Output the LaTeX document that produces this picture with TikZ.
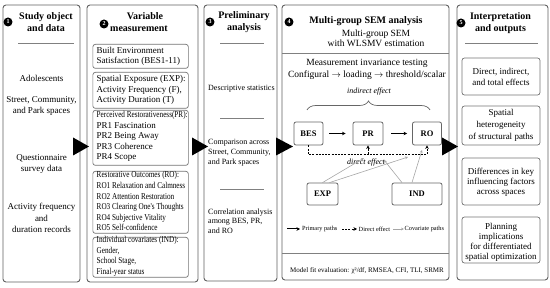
\documentclass[tikz,border=0pt]{standalone}
\usepackage{fontspec}
\setmainfont{Liberation Serif}
\newfontfamily\cond[FakeStretch=0.8]{Liberation Serif}
\usetikzlibrary{arrows.meta,decorations.pathreplacing,calc}
\begin{document}
\begin{tikzpicture}[x=1pt,y=1pt,
  panel/.style={draw=black!62, line width=0.9pt, rounded corners=3pt, inner sep=0pt},
  ibox/.style={draw=black!55, line width=0.7pt, rounded corners=2.5pt, inner sep=0pt},
  badge/.style={circle, fill=black, text=white, inner sep=0pt, minimum size=9pt, font=\fontsize{6}{6}\selectfont\bfseries},
  ttl/.style={font=\fontsize{10}{12.5}\selectfont\bfseries, align=center, inner sep=0pt},
  body/.style={font=\fontsize{9}{11.5}\selectfont, align=center, inner sep=0pt},
  btxt/.style={font=\fontsize{9}{10.5}\selectfont, align=left, inner sep=0pt, anchor=west},
  ptxt/.style={font=\fontsize{8}{10}\selectfont, align=left, inner sep=0pt, anchor=west},
  otxt/.style={font=\fontsize{9}{11}\selectfont, align=center, inner sep=0pt},
  sep/.style={draw=black!50, line width=0.7pt},
  sem/.style={draw=black!60, line width=0.8pt, rounded corners=2pt, font=\fontsize{8.5}{9}\selectfont\bfseries, minimum height=23pt, inner sep=0pt},
  prim/.style={draw=black, line width=1pt, -{Stealth[length=3.5pt,width=3.5pt]}},
  dir/.style={draw=black, line width=0.8pt, dashed, dash pattern=on 2pt off 1.2pt, -{Stealth[length=3.5pt,width=3.5pt]}},
  cov/.style={draw=black!35, line width=0.6pt, -{Stealth[length=3pt,width=2.8pt]}},
  leg/.style={font=\fontsize{6.3}{7}\selectfont, inner sep=0pt, anchor=west},
  bigarr/.style={fill=black}
]
\useasboundingbox (0,0) rectangle (550,-288);

% ---------- Panel 1 ----------
\node[panel, minimum width=77pt, minimum height=277pt] (p1) at (41.5,-143.5) {};
\node[badge] (b1) at (8,-22) {1};
\node[ttl] (t1) at (46,-22) {Study object\\and data};
\draw[sep] (18,-43) -- (74,-43);
\node[body] (a1) at (41.5,-78) {Adolescents};
\node[body] (a2) at (41.5,-106) {Street, Community,\\and Park spaces};
\node[body] (a3) at (41.5,-164) {Questionnaire\\survey data};
\node[body] (a4) at (41.5,-218) {Activity frequency\\and\\duration records};

% ---------- Panel 2 ----------
\node[panel, minimum width=111pt, minimum height=277pt] (p2) at (142.5,-143.5) {};
\node[badge] (b2) at (104,-24) {2};
\node[ttl] (t2a) at (145,-16) {Variable};
\node[ttl] (t2b) at (139,-28.5) {measurement};
\node[ibox, anchor=north west, minimum width=95.5pt, minimum height=24pt] (m1) at (92.5,-44) {};
\node[btxt] (m1t) at ($(m1.west)+(4,0)$) {Built Environment\\Satisfaction (BES1-11)};
\node[ibox, anchor=north west, minimum width=95.5pt, minimum height=36pt] (m2) at (92.5,-72) {};
\node[btxt] (m2t) at ($(m2.west)+(4,0)$) {Spatial Exposure (EXP):\\Activity Frequency (F),\\Activity Duration (T)};
\node[ibox, anchor=north west, minimum width=95.5pt, minimum height=55pt] (m3) at (92.5,-110) {};
\node[btxt] (m3t) at ($(m3.west)+(4,1.5)$) {{\cond Perceived Restorativeness(PR):}\\PR1 Fascination\\PR2 Being Away\\PR3 Coherence\\PR4 Scope};
\node[ibox, anchor=north west, minimum width=95.5pt, minimum height=62pt] (m4) at (92.5,-171) {};
\node[btxt, font=\fontsize{9}{10.6}\selectfont\cond] (m4t) at ($(m4.west)+(4,1)$) {Restorative Outcomes (RO):\\RO1 Relaxation and Calmness\\RO2 Attention Restoration\\RO3 Clearing One's Thoughts\\RO4 Subjective Vitality\\RO5 Self-confidence};
\node[ibox, anchor=north west, minimum width=95.5pt, minimum height=40pt] (m5) at (92.5,-237) {};
\node[btxt, font=\fontsize{9}{10.6}\selectfont\cond] (m5t) at ($(m5.west)+(4,1)$) {Individual covariates (IND):\\Gender,\\School Stage,\\Final-year status};

% ---------- Panel 3 ----------
\node[panel, minimum width=73pt, minimum height=276pt] (p3) at (240.5,-143) {};
\node[badge] (b3) at (210,-22) {3};
\node[ttl] (t3) at (244,-22) {Preliminary\\analysis};
\draw[sep] (220,-43) -- (264,-43);
\draw[sep] (220,-118) -- (264,-118);
\draw[sep] (220,-189) -- (264,-189);
\node[ptxt] (d1) at (208,-89) {Descriptive statistics};
\node[ptxt] (d2) at (208,-153) {Comparison across\\Street, Community,\\and Park spaces};
\node[ptxt, font=\fontsize{8}{9.5}\selectfont] (d3) at (208,-221) {Correlation analysis\\among BES, PR,\\and RO};

% ---------- Panel 4 ----------
\node[panel, minimum width=167pt, minimum height=275pt] (p4) at (365.5,-142.5) {};
\node[badge] (b4) at (289,-22) {4};
\node[ttl] (t4) at (366,-21) {Multi-group SEM analysis};
\node[body, font=\fontsize{9.5}{10}\selectfont] (t4s) at (376,-38) {Multi-group SEM\\with WLSMV estimation};
\draw[sep] (282,-53) -- (449,-53);
\node[body, font=\fontsize{9.5}{12}\selectfont] (mi) at (367,-69) {Measurement invariance testing\\Configural $\rightarrow$ loading $\rightarrow$ threshold/scalar};
\node[body, font=\fontsize{8}{9}\selectfont\itshape] (ie) at (369,-92) {indirect effect};
\draw[black!60, line width=0.7pt, decorate, decoration={brace, amplitude=9pt}] (307,-110) -- (430,-110);

\node[sem, minimum width=29pt] (BES) at (308.5,-133.5) {BES};
\node[sem, minimum width=30pt] (PR) at (368,-133.5) {PR};
\node[sem, minimum width=29pt] (RO) at (427,-133.5) {RO};
\node[sem, minimum width=31pt, minimum height=22pt] (EXP) at (322.5,-194) {EXP};
\node[sem, minimum width=50pt, minimum height=22pt] (IND) at (417,-194) {IND};

\draw[prim, shorten <=6pt, shorten >=7pt] (BES) -- (PR);
\draw[prim, shorten <=8pt, shorten >=5pt] (PR) -- (RO);
\draw[dir] (BES.south) -- ++(0,-9) -| (RO.south);
\coordinate (dj) at (368,-154);
\draw[dir] (dj) -- (PR.south);
\node[body, font=\fontsize{8}{9}\selectfont\itshape] (de) at (366,-163) {direct effect};

\coordinate (c1) at (364,-158);
\coordinate (c2) at (408,-157);
\coordinate (c3) at (384,-160);
\coordinate (c4) at (422,-150);
\draw[cov] (EXP.north) -- (c1);
\draw[cov] ($(EXP.north)+(7,0)$) -- (c2);
\draw[cov] ($(IND.north)+(-15,0)$) -- (c3);
\draw[cov] ($(IND.north)+(-5,0)$) -- (c4);

% legend
\coordinate (l1a) at (287,-229); \coordinate (l1b) at (300,-229);
\draw[prim] (l1a) -- (l1b);
\node[leg] (lg1) at (302,-229) {Primary paths};
\coordinate (l2a) at (342,-229); \coordinate (l2b) at (357,-229);
\draw[dir] (l2a) -- (l2b);
\node[leg] (lg2) at (358.5,-229) {Direct effect};
\coordinate (l3a) at (393,-229); \coordinate (l3b) at (404,-229);
\draw[cov] (l3a) -- (l3b);
\node[leg] (lg3) at (404.5,-229) {Covariate paths};
\draw[sep] (282,-253) -- (449,-253);
\node[body, font=\fontsize{7}{8}\selectfont] (fit) at (367,-271) {Model fit evaluation: χ²/df, RMSEA, CFI, TLI, SRMR};

% ---------- Panel 5 ----------
\node[panel, minimum width=91pt, minimum height=275pt] (p5) at (502.5,-142.5) {};
\node[badge] (b5) at (461,-23) {5};
\node[ttl] (t5) at (500.5,-23) {Interpretation\\and outputs};
\draw[sep] (465,-43) -- (538,-43);
\node[ibox, minimum width=78pt, minimum height=37pt] (o1) at (501,-76.5) {};
\node[otxt] (o1t) at (o1) {Direct, indirect,\\and total effects};
\node[ibox, minimum width=78pt, minimum height=39pt] (o2) at (501,-125.5) {};
\node[otxt, font=\fontsize{9}{12}\selectfont] (o2t) at (o2) {Spatial\\heterogeneity\\of structural paths};
\node[ibox, minimum width=78pt, minimum height=47pt] (o3) at (501,-181.5) {};
\node[otxt, font=\fontsize{9}{10}\selectfont] (o3t) at ($(o3)+(0,-1)$) {Differences in key\\influencing factors\\across spaces};
\node[ibox, minimum width=78pt, minimum height=46pt] (o4) at (501,-240) {};
\node[otxt, font=\fontsize{9}{10}\selectfont] (o4t) at ($(o4)+(0,-2)$) {Planning\\implications\\for differentiated\\spatial optimization};

% ---------- big arrows between panels ----------
\fill[bigarr] (73,-137.5) -- (89,-146.5) -- (73,-155.5) -- cycle;
\fill[bigarr] (192,-137.5) -- (208,-146.5) -- (192,-155.5) -- cycle;
\fill[bigarr] (276,-137.5) -- (293,-146.5) -- (276,-155.5) -- cycle;
\fill[bigarr] (442,-137.5) -- (458,-146.5) -- (442,-155.5) -- cycle;
\end{tikzpicture}
\end{document}
